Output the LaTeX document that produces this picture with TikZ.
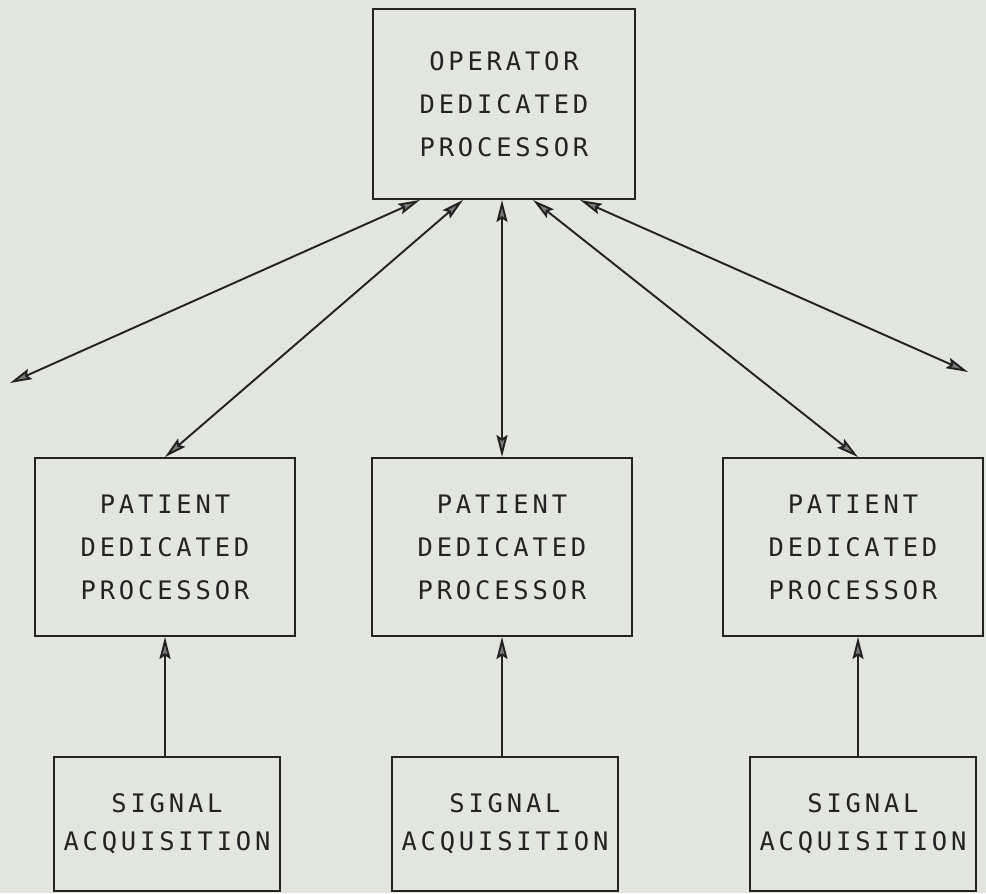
\documentclass[tikz,border=0pt]{standalone}
\usepackage{fontspec}
\setmonofont[LetterSpace=15]{DejaVu Sans Mono}
\usetikzlibrary{arrows.meta}
\definecolor{paper}{RGB}{226,230,223}
\definecolor{ink}{RGB}{35,35,35}

\begin{document}
\begin{tikzpicture}[
  box/.style={draw=ink, line width=1.1pt, align=center, text=ink, inner sep=0pt,
    font=\ttfamily\fontsize{14.5}{24.5}\selectfont},
  sigbox/.style={box, minimum width=4.52cm, minimum height=2.68cm,
    font=\ttfamily\fontsize{14.5}{21.6}\selectfont},
  pdpbox/.style={box, minimum width=5.2cm, minimum height=3.56cm},
  link/.style={draw=ink, line width=1.1pt},
  >={Stealth[length=4.4mm,width=2.2mm,inset=0.7mm,fill=ink!60]}
]
\fill[paper] (0,0) rectangle (19.72,17.86);
\useasboundingbox (0,0) rectangle (19.72,17.86);

\node[box, minimum width=5.24cm, minimum height=3.8cm] (odp) at (10.08,15.78) {OPERATOR\\DEDICATED\\PROCESSOR};

\node[pdpbox] (pdpA) at (3.30,6.92) {PATIENT\\DEDICATED\\PROCESSOR};
\node[pdpbox] (pdpB) at (10.04,6.92) {PATIENT\\DEDICATED\\PROCESSOR};
\node[pdpbox] (pdpC) at (17.06,6.92) {PATIENT\\DEDICATED\\PROCESSOR};

\node[sigbox] (sigA) at (3.34,1.38) {SIGNAL\\ACQUISITION};
\node[sigbox] (sigB) at (10.10,1.38) {SIGNAL\\ACQUISITION};
\node[sigbox] (sigC) at (17.26,1.38) {SIGNAL\\ACQUISITION};

\coordinate (outL) at (0.20,10.20);
\coordinate (outR) at (19.36,10.42);

\draw[link,<->] ([xshift=-1.68cm]odp.south) -- (outL);
\draw[link,<->] ([xshift=-0.82cm]odp.south) -- (pdpA.north);
\draw[link,<->] (pdpB.north |- odp.south) -- (pdpB.north);
\draw[link,<->] ([xshift=0.58cm]odp.south) -- ([xshift=0.1cm]pdpC.north);
\draw[link,<->] ([xshift=1.52cm]odp.south) -- (outR);

\draw[link,->] (pdpA.south |- sigA.north) -- (pdpA.south);
\draw[link,->] (pdpB.south |- sigB.north) -- (pdpB.south);
\draw[link,->] ([xshift=0.1cm]pdpC.south |- sigC.north) -- ([xshift=0.1cm]pdpC.south);
\end{tikzpicture}
\end{document}
